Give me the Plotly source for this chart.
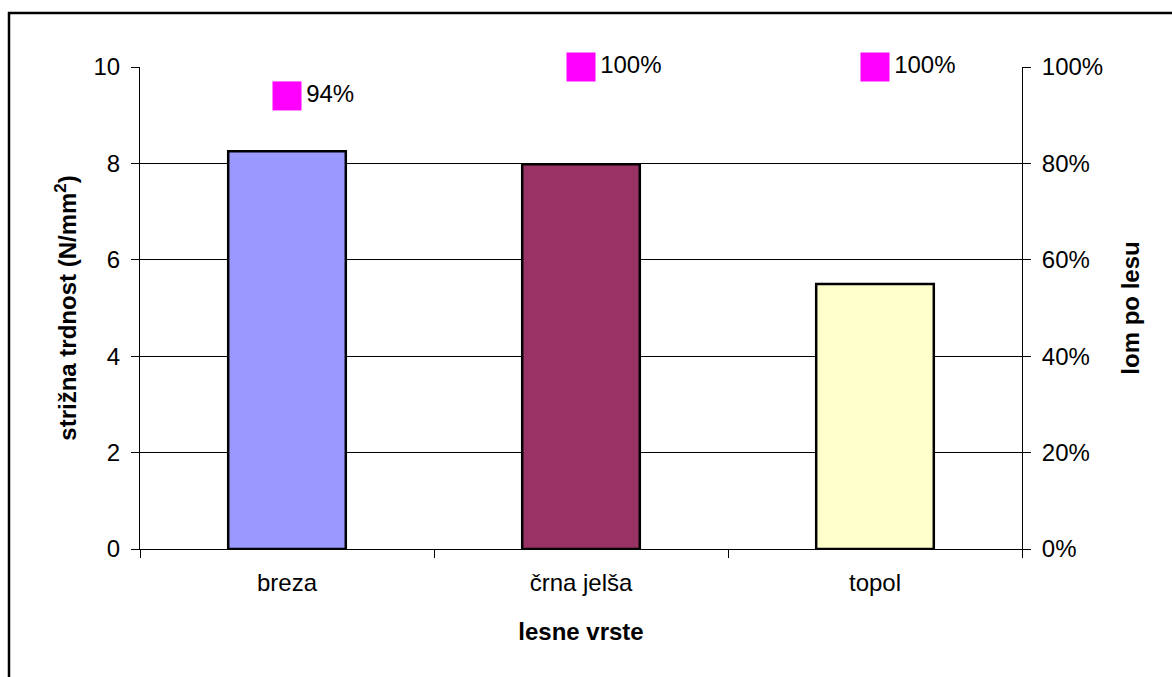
import plotly.graph_objects as go

# Wood species and measured values
species = ["breza", "črna jelša", "topol"]
shear_strength = [8.25, 7.98, 5.50]          # N/mm²
wood_failure = [0.94, 1.00, 1.00]            # share of failure in wood
failure_labels = ["94%", "100%", "100%"]
bar_colors = ["#9999FF", "#993366", "#FFFFCC"]

W, H = 1172, 677
ML, MR, MT, MB = 140, 150, 67, 128
FONT = "Liberation Sans, Arial, sans-serif"
FS = 24

fig = go.Figure()

fig.add_trace(go.Bar(
    x=species, y=shear_strength,
    marker=dict(color=bar_colors, line=dict(color="black", width=2.5)),
    width=0.4, showlegend=False, hoverinfo="x+y",
))

fig.add_trace(go.Scatter(
    x=species, y=wood_failure, yaxis="y2",
    mode="markers+text",
    marker=dict(symbol="square", size=29, color="#FF00FF", line=dict(width=0)),
    text=failure_labels, textposition="middle right",
    textfont=dict(family=FONT, size=FS, color="black"),
    cliponaxis=False, showlegend=False,
))

axis_font = dict(family=FONT, size=FS, color="black")
title_font = dict(family=FONT, size=FS, color="black", weight="bold")

fig.update_layout(
    width=W, height=H,
    margin=dict(l=ML, r=MR, t=MT, b=MB),
    paper_bgcolor="white", plot_bgcolor="white",
    font=axis_font,
    xaxis=dict(
        title=dict(text="lesne vrste", font=title_font, standoff=28),
        showline=True, linecolor="black", linewidth=1,
        ticks="outside", tickson="boundaries", ticklen=8, tickcolor="black",
        showgrid=False, tickfont=axis_font, ticklabelstandoff=12,
    ),
    yaxis=dict(
        title=dict(text="strižna trdnost (N/mm<sup>2</sup>)", font=title_font, standoff=10),
        range=[0, 10], dtick=2,
        showline=True, linecolor="black", linewidth=1,
        ticks="outside", ticklen=8, tickcolor="black",
        showgrid=True, gridcolor="black", gridwidth=1,
        zeroline=False, tickfont=axis_font, ticklabelstandoff=6,
    ),
    yaxis2=dict(
        title=dict(text="lom po lesu", font=title_font, standoff=20),
        overlaying="y", side="right",
        range=[0, 1], dtick=0.2, tickformat=".0%",
        showline=True, linecolor="black", linewidth=1,
        ticks="outside", ticklen=8, tickcolor="black",
        showgrid=False, zeroline=False, tickfont=axis_font, ticklabelstandoff=6,
    ),
    bargap=0.6,
)

# Frame around the chart area (left and top edges fall inside the page)
pw = W - ML - MR
ph = H - MT - MB
x0 = (9 - ML) / pw
y1 = 1 + (MT - 13) / ph
fig.add_shape(type="rect", xref="paper", yref="paper",
              x0=x0, x1=1 + (MR + 20) / pw, y0=-(MB + 20) / ph, y1=y1,
              line=dict(color="black", width=2.5), fillcolor="rgba(0,0,0,0)",
              layer="below")

fig.write_html("out.html")
